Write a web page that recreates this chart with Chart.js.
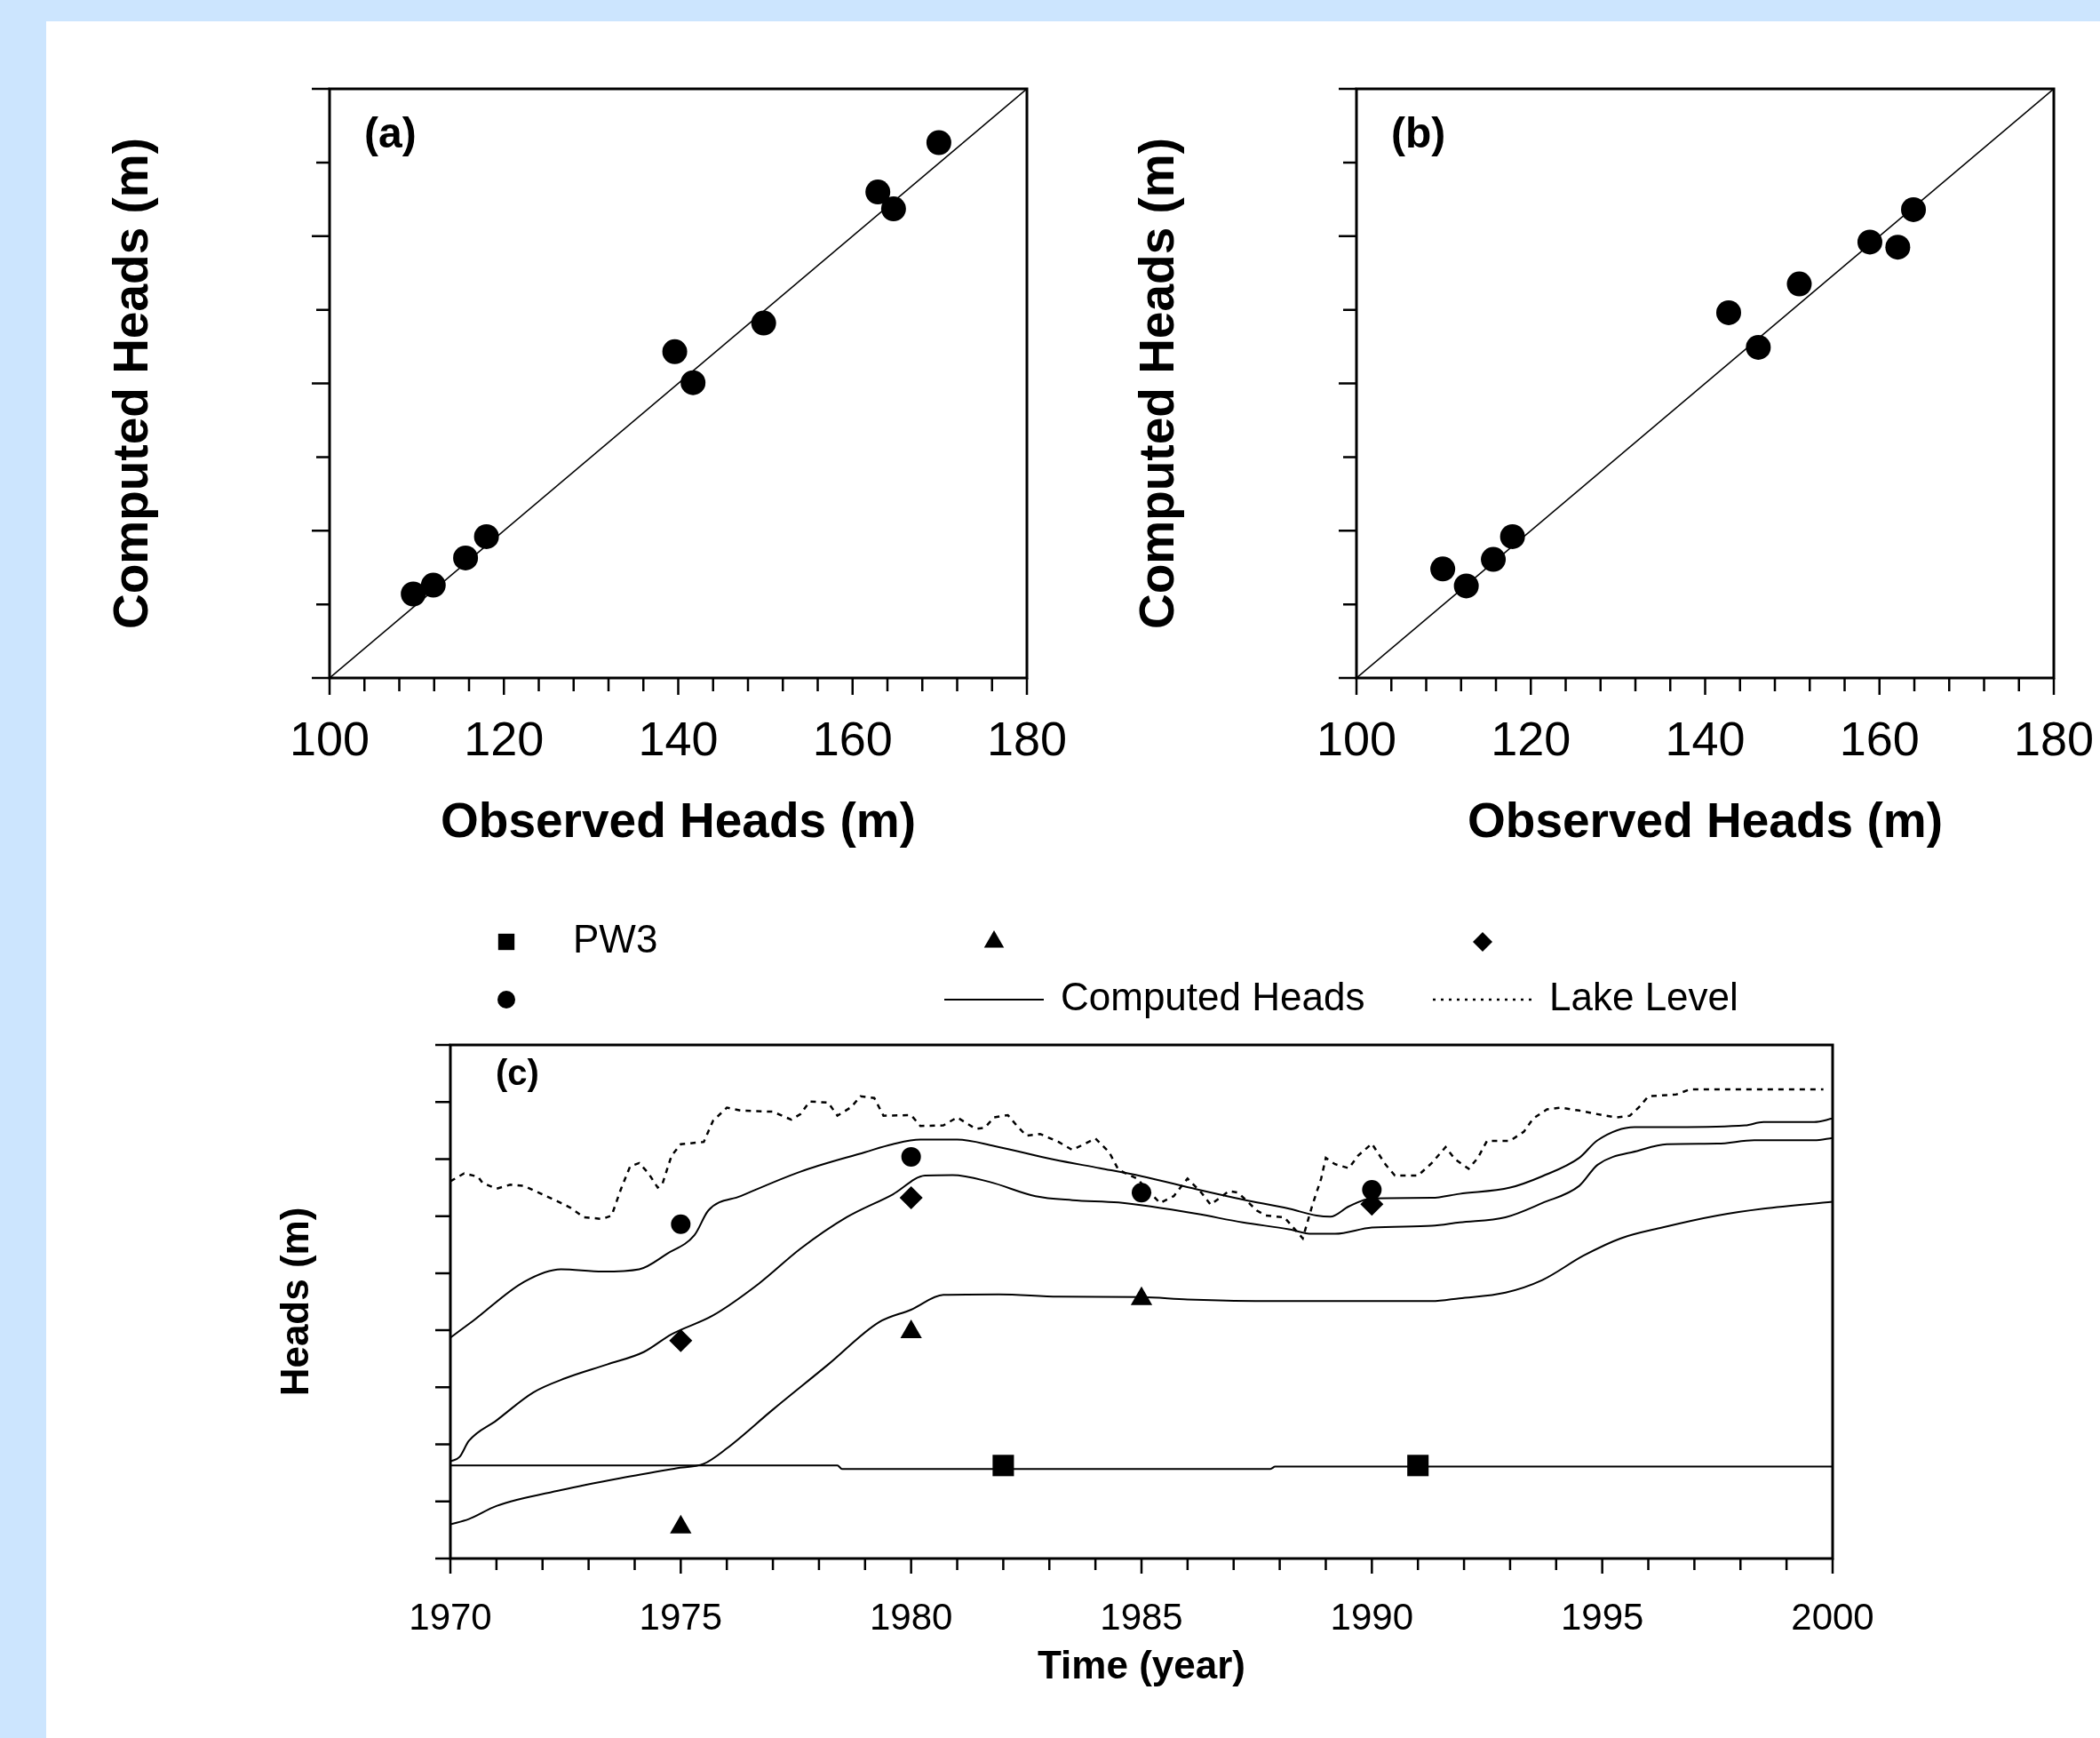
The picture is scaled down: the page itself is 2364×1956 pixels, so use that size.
<!DOCTYPE html>
<html>
<head>
<meta charset="utf-8">
<title>Observed and computed heads</title>
<script src="https://cdn.jsdelivr.net/npm/chart.js@4/dist/chart.umd.min.js"></script>
<style>
  html, body { margin: 0; padding: 0; }
  body { width: 2364px; height: 1956px; background: #cce5fe; position: relative; overflow: hidden; }
  #sheet { position: absolute; left: 52px; top: 24px; right: 0; bottom: 0; background: #fff; }
  canvas { position: absolute; }
</style>
</head>
<body>
<div id="sheet"></div>
<canvas id="chart-a" width="1160" height="900" style="left:60px;top:60px"></canvas>
<canvas id="chart-b" width="1134" height="900" style="left:1230px;top:60px"></canvas>
<canvas id="chart-c" width="1860" height="940" style="left:260px;top:990px"></canvas>
<script>
// panel (a): observed vs computed heads (m)
const observedA = [109.6, 111.9, 115.6, 118.0, 139.6, 141.7, 149.8, 162.9, 164.7, 169.9];
const computedA = [111.4, 112.6, 116.3, 119.2, 144.3, 140.1, 148.2, 166.0, 163.7, 172.7];

// panel (b)
const observedB = [109.9, 112.6, 115.7, 117.9, 142.7, 146.1, 150.8, 158.9, 162.1, 163.9];
const computedB = [114.8, 112.5, 116.1, 119.2, 149.6, 144.9, 153.5, 159.2, 158.5, 163.6];

// 1:1 line end points
const perfectFit = [100, 180];

// panel (c): computed heads per well (y axis unlabelled in source)
const topYears = [1970, 1970.5, 1971.6, 1972.4, 1973.3, 1974.1, 1974.7, 1975.3, 1975.6, 1976.3, 1977.6, 1979.0, 1979.6, 1980.2, 1981.0, 1981.8, 1983.1, 1984.1, 1985.0, 1986.2, 1987.2, 1988.2, 1988.8, 1989.1, 1989.5, 1990.0, 1991.3, 1991.9, 1993.0, 1993.7, 1994.5, 1994.9, 1995.7, 1996.6, 1998.1, 1998.5, 1999.6, 2000];
const topHeads = [38.7, 41.7, 48.5, 50.7, 50.3, 50.7, 53.4, 56.7, 61.0, 63.5, 67.8, 71.2, 72.6, 73.4, 73.4, 72.3, 69.9, 68.4, 67.0, 64.7, 62.9, 61.3, 60.1, 59.9, 61.7, 63.1, 63.2, 63.9, 65.0, 67.0, 70.2, 73.3, 75.6, 75.6, 75.9, 76.5, 76.5, 77.1];

const midYears = [1970, 1970.2, 1970.4, 1971.0, 1971.8, 1972.5, 1973.4, 1974.2, 1974.8, 1975.7, 1976.7, 1977.6, 1978.6, 1979.6, 1980.3, 1980.9, 1981.7, 1982.7, 1983.5, 1984.5, 1985.2, 1986.2, 1987.2, 1988.2, 1988.7, 1989.2, 1990.0, 1991.3, 1991.9, 1992.9, 1993.7, 1994.5, 1994.9, 1995.8, 1996.4, 1997.5, 1998.3, 1999.6, 2000];
const midHeads = [17.0, 17.8, 20.6, 24.2, 29.1, 31.6, 34.0, 36.2, 39.3, 42.6, 48.2, 54.3, 59.8, 63.8, 67.1, 67.2, 66.0, 63.5, 62.8, 62.4, 61.7, 60.4, 58.9, 57.7, 56.9, 56.9, 58.0, 58.3, 58.9, 59.8, 62.3, 65.3, 69.0, 71.5, 72.6, 72.7, 73.3, 73.3, 73.7];

const lowYears = [1970, 1970.4, 1971.0, 1972.4, 1973.7, 1974.9, 1975.5, 1976.0, 1977.0, 1978.2, 1979.3, 1980.0, 1980.7, 1981.9, 1983.2, 1985.0, 1986.0, 1987.9, 1991.3, 1991.9, 1992.9, 1993.7, 1994.6, 1995.4, 1996.3, 1997.5, 1998.5, 2000];
const lowHeads = [6.0, 6.9, 9.2, 12.0, 14.1, 15.8, 16.6, 19.3, 26.1, 34.0, 41.4, 43.6, 46.2, 46.3, 45.9, 45.8, 45.4, 45.1, 45.1, 45.6, 46.6, 48.8, 53.1, 56.1, 58.0, 60.1, 61.3, 62.5];

const pw3Years = [1970, 1978.4, 1978.5, 1987.8, 1987.9, 2000];
const pw3Heads = [16.3, 16.3, 15.7, 15.7, 16.1, 16.1];

const lakeYears = [1970, 1970.3, 1970.6, 1970.7, 1971.0, 1971.3, 1971.6, 1972.0, 1972.4, 1972.6, 1972.9, 1973.3, 1973.5, 1973.7, 1973.9, 1974.1, 1974.3, 1974.5, 1974.6, 1974.8, 1975.0, 1975.5, 1975.7, 1976.0, 1976.3, 1977.0, 1977.4, 1977.6, 1977.8, 1978.2, 1978.4, 1978.7, 1978.9, 1979.2, 1979.4, 1980.0, 1980.2, 1980.7, 1981.0, 1981.4, 1981.6, 1981.8, 1982.1, 1982.3, 1982.5, 1982.8, 1983.2, 1983.5, 1983.7, 1984.0, 1984.3, 1984.5, 1984.9, 1985.4, 1985.7, 1986.0, 1986.3, 1986.5, 1986.9, 1987.1, 1987.5, 1987.7, 1988.1, 1988.5, 1988.7, 1988.9, 1989.0, 1989.2, 1989.5, 1989.7, 1990.0, 1990.3, 1990.5, 1991.0, 1991.3, 1991.6, 1991.8, 1992.1, 1992.3, 1992.5, 1993.0, 1993.3, 1993.5, 1993.8, 1994.1, 1994.5, 1995.0, 1995.3, 1995.6, 1995.8, 1996.0, 1996.6, 1996.9, 1999.8];
const lakeHeads = [66.1, 67.5, 66.9, 65.8, 64.8, 65.5, 65.3, 63.8, 62.3, 61.5, 59.8, 59.5, 60.1, 64.7, 68.7, 69.3, 67.5, 65.0, 65.6, 70.6, 72.6, 73.0, 76.7, 79.0, 78.5, 78.3, 76.9, 77.9, 80.1, 79.9, 77.6, 79.1, 81.0, 80.7, 77.6, 77.7, 75.8, 75.9, 77.3, 75.3, 75.5, 77.3, 77.7, 75.8, 74.1, 74.4, 73.0, 71.6, 72.4, 73.6, 71.2, 68.1, 66.6, 62.3, 63.5, 66.6, 64.1, 62.0, 64.4, 64.1, 61.0, 60.1, 59.8, 56.1, 61.7, 66.6, 70.2, 69.1, 68.4, 70.6, 72.7, 69.0, 67.1, 67.1, 69.3, 72.1, 70.0, 68.3, 70.2, 73.2, 73.2, 74.8, 77.1, 78.7, 79.0, 78.5, 77.7, 77.3, 77.6, 79.1, 81.0, 81.3, 82.2, 82.2];

// observed heads in panel (c)
const squareObsYears = [1982, 1991];
const squareObsHeads = [16.3, 16.3];
const triangleObsYears = [1975, 1980, 1985];
const triangleObsHeads = [5.5, 39.7, 45.5];
const diamondObsYears = [1975, 1980, 1990];
const diamondObsHeads = [38.2, 63.2, 62.1];
const circleObsYears = [1975, 1980, 1985, 1990];
const circleObsHeads = [58.6, 70.4, 64.1, 64.6];

const FONT = "'Liberation Sans', Arial, Helvetica, sans-serif";

function pairs(xs, ys) {
  return xs.map((x, i) => ({ x: x, y: ys[i] }));
}

// fixed axis box; also drop the label overhang padding so the plot area stays put
function fixHeight(h) {
  return s => { s.height = h; s.paddingLeft = 0; s.paddingRight = 0; };
}
function fixWidth(w) {
  return s => { s.width = w; s.paddingTop = 0; s.paddingBottom = 0; };
}

// draws the closed frame, the tick marks (major/minor) and the panel letter
const frameTicks = {
  id: 'frameTicks',
  afterDatasetsDraw(chart, args, opts) {
    const { ctx, chartArea: a, scales } = chart;
    const x = scales.x, y = scales.y;
    ctx.save();
    ctx.strokeStyle = '#000';
    ctx.lineWidth = opts.frameWidth;
    ctx.strokeRect(a.left, a.top, a.right - a.left, a.bottom - a.top);

    ctx.lineWidth = opts.tickWidth;
    ctx.beginPath();
    let i = 0;
    for (let v = x.min; v <= x.max + 1e-6; v += opts.xStep, i++) {
      const px = x.getPixelForValue(v);
      const len = i % opts.xMajorEvery === 0 ? opts.xMajorLen : opts.xMinorLen;
      ctx.moveTo(px, a.bottom);
      ctx.lineTo(px, a.bottom + len);
    }
    i = 0;
    for (let v = y.min; v <= y.max + 1e-6; v += opts.yStep, i++) {
      const py = y.getPixelForValue(v);
      const len = i % opts.yMajorEvery === 0 ? opts.yMajorLen : opts.yMinorLen;
      ctx.moveTo(a.left, py);
      ctx.lineTo(a.left - len, py);
    }
    ctx.stroke();

    if (opts.label) {
      ctx.fillStyle = '#000';
      ctx.font = 'bold ' + opts.labelSize + 'px ' + FONT;
      ctx.textAlign = 'left';
      ctx.textBaseline = 'middle';
      ctx.fillText(opts.label, a.left + opts.labelDx, a.top + opts.labelDy);
    }
    ctx.restore();
  }
};

// legend laid out as a 3-column grid above panel (c)
const gridLegend = {
  id: 'gridLegend',
  afterDraw(chart, args, opts) {
    const ctx = chart.ctx;
    ctx.save();
    ctx.fillStyle = '#000';
    ctx.strokeStyle = '#000';
    ctx.font = opts.fontSize + 'px ' + FONT;
    ctx.textAlign = 'left';
    ctx.textBaseline = 'middle';
    chart.data.datasets.forEach(ds => {
      if (ds.legendSlot === undefined) return;
      const cols = opts.columns.length;
      const cx = opts.columns[ds.legendSlot % cols];
      const cy = opts.rows[Math.floor(ds.legendSlot / cols)];
      if (ds.showLine) {
        ctx.lineWidth = ds.borderWidth;
        ctx.setLineDash(ds.legendDash || ds.borderDash || []);
        ctx.beginPath();
        ctx.moveTo(cx - opts.sampleHalf, cy);
        ctx.lineTo(cx + opts.sampleHalf, cy);
        ctx.stroke();
        ctx.setLineDash([]);
      } else {
        Chart.helpers.drawPoint(ctx, {
          pointStyle: ds.pointStyle, radius: ds.legendRadius, rotation: 0, borderWidth: 0
        }, cx, cy);
      }
      if (ds.label) ctx.fillText(ds.label, cx + opts.textGap, cy);
    });
    ctx.restore();
  }
};

function scatterPanel(canvasId, observed, computed, letter, yAxisWidth, rightPad, yTitlePad) {
  return new Chart(document.getElementById(canvasId), {
    type: 'scatter',
    data: {
      datasets: [
        {
          data: pairs(observed, computed),
          pointRadius: 14,
          pointStyle: 'circle',
          backgroundColor: '#000',
          borderWidth: 0,
          clip: false
        },
        {
          data: pairs(perfectFit, perfectFit),
          showLine: true,
          pointRadius: 0,
          borderColor: '#000',
          borderWidth: 1.6
        }
      ]
    },
    options: {
      responsive: false,
      animation: false,
      devicePixelRatio: 1,
      events: [],
      layout: { padding: { top: 40, right: rightPad, left: 0, bottom: 0 } },
      plugins: {
        legend: { display: false },
        tooltip: { enabled: false },
        frameTicks: {
          frameWidth: 3, tickWidth: 2.5,
          xStep: 4, xMajorEvery: 5, xMajorLen: 19, xMinorLen: 15,
          yStep: 10, yMajorEvery: 2, yMajorLen: 20, yMinorLen: 15,
          label: letter, labelSize: 48, labelDx: 39, labelDy: 53
        }
      },
      scales: {
        x: {
          type: 'linear', min: 100, max: 180,
          afterFit: fixHeight(197),
          grid: { display: false, drawTicks: false },
          border: { display: false },
          ticks: { stepSize: 20, padding: 45, color: '#000', font: { family: FONT, size: 54, lineHeight: 1 } },
          title: {
            display: true, text: 'Observed Heads (m)', color: '#000',
            font: { family: FONT, size: 55, weight: 'bold', lineHeight: 1 },
            padding: { top: 0, bottom: 6 }
          }
        },
        y: {
          type: 'linear', min: 100, max: 180,
          afterFit: fixWidth(yAxisWidth),
          grid: { display: false, drawTicks: false },
          border: { display: false },
          ticks: { display: false, stepSize: 10 },
          title: {
            display: true, text: 'Computed Heads (m)', color: '#000',
            font: { family: FONT, size: 55, weight: 'bold', lineHeight: 1 },
            padding: { top: yTitlePad, bottom: 0 }
          }
        }
      }
    },
    plugins: [frameTicks]
  });
}

scatterPanel('chart-a', observedA, computedA, '(a)', 311, 64, 63);
scatterPanel('chart-b', observedB, computedB, '(b)', 297, 52, 48);

function markerSet(label, style, radius, legendRadius, slot, xs, ys) {
  return {
    label: label, data: pairs(xs, ys), pointStyle: style, pointRadius: radius,
    backgroundColor: '#000', borderWidth: 0, showLine: false, clip: false,
    legendSlot: slot, legendRadius: legendRadius
  };
}

function headLine(label, xs, ys, slot) {
  return {
    label: label, data: pairs(xs, ys), showLine: true, pointRadius: 0,
    borderColor: '#000', borderWidth: 2, cubicInterpolationMode: 'monotone',
    legendSlot: slot
  };
}

new Chart(document.getElementById('chart-c'), {
  type: 'scatter',
  data: {
    datasets: [
      markerSet('PW3', 'rect', 17, 13, 0, squareObsYears, squareObsHeads),
      markerSet('', 'triangle', 14, 13, 1, triangleObsYears, triangleObsHeads),
      markerSet('', 'rectRot', 13, 11, 2, diamondObsYears, diamondObsHeads),
      markerSet('', 'circle', 11, 10, 3, circleObsYears, circleObsHeads),
      headLine('Computed Heads', topYears, topHeads, 4),
      headLine('', midYears, midHeads),
      headLine('', lowYears, lowHeads),
      headLine('', pw3Years, pw3Heads),
      {
        label: 'Lake Level', data: pairs(lakeYears, lakeHeads), showLine: true, pointRadius: 0,
        borderColor: '#000', borderWidth: 2.5, borderDash: [6, 6], legendDash: [3, 6],
        legendSlot: 5
      }
    ]
  },
  options: {
    responsive: false,
    animation: false,
    devicePixelRatio: 1,
    events: [],
    layout: { padding: { top: 186, right: 57, left: 0, bottom: 0 } },
    plugins: {
      legend: { display: false },
      tooltip: { enabled: false },
      frameTicks: {
        frameWidth: 3, tickWidth: 2.5,
        xStep: 1, xMajorEvery: 5, xMajorLen: 17, xMinorLen: 13,
        yStep: 10, yMajorEvery: 1, yMajorLen: 17, yMinorLen: 17,
        label: '(c)', labelSize: 40, labelDx: 51, labelDy: 34
      },
      gridLegend: {
        columns: [310, 859, 1409], rows: [70, 135],
        sampleHalf: 56, textGap: 75, fontSize: 44
      }
    },
    scales: {
      x: {
        type: 'linear', min: 1970, max: 2000,
        afterFit: fixHeight(176),
        grid: { display: false, drawTicks: false },
        border: { display: false },
        ticks: {
          stepSize: 5, padding: 47, color: '#000',
          font: { family: FONT, size: 42, lineHeight: 1 },
          callback: v => String(v)
        },
        title: {
          display: true, text: 'Time (year)', color: '#000',
          font: { family: FONT, size: 44, weight: 'bold', lineHeight: 1 },
          padding: { top: 0, bottom: 31 }
        }
      },
      y: {
        type: 'linear', min: 0, max: 90,
        afterFit: fixWidth(247),
        grid: { display: false, drawTicks: false },
        border: { display: false },
        ticks: { display: false, stepSize: 10 },
        title: {
          display: true, text: 'Heads (m)', color: '#000',
          font: { family: FONT, size: 44, weight: 'bold', lineHeight: 1 },
          padding: { top: 53, bottom: 0 }
        }
      }
    }
  },
  plugins: [frameTicks, gridLegend]
});
</script>
</body>
</html>
